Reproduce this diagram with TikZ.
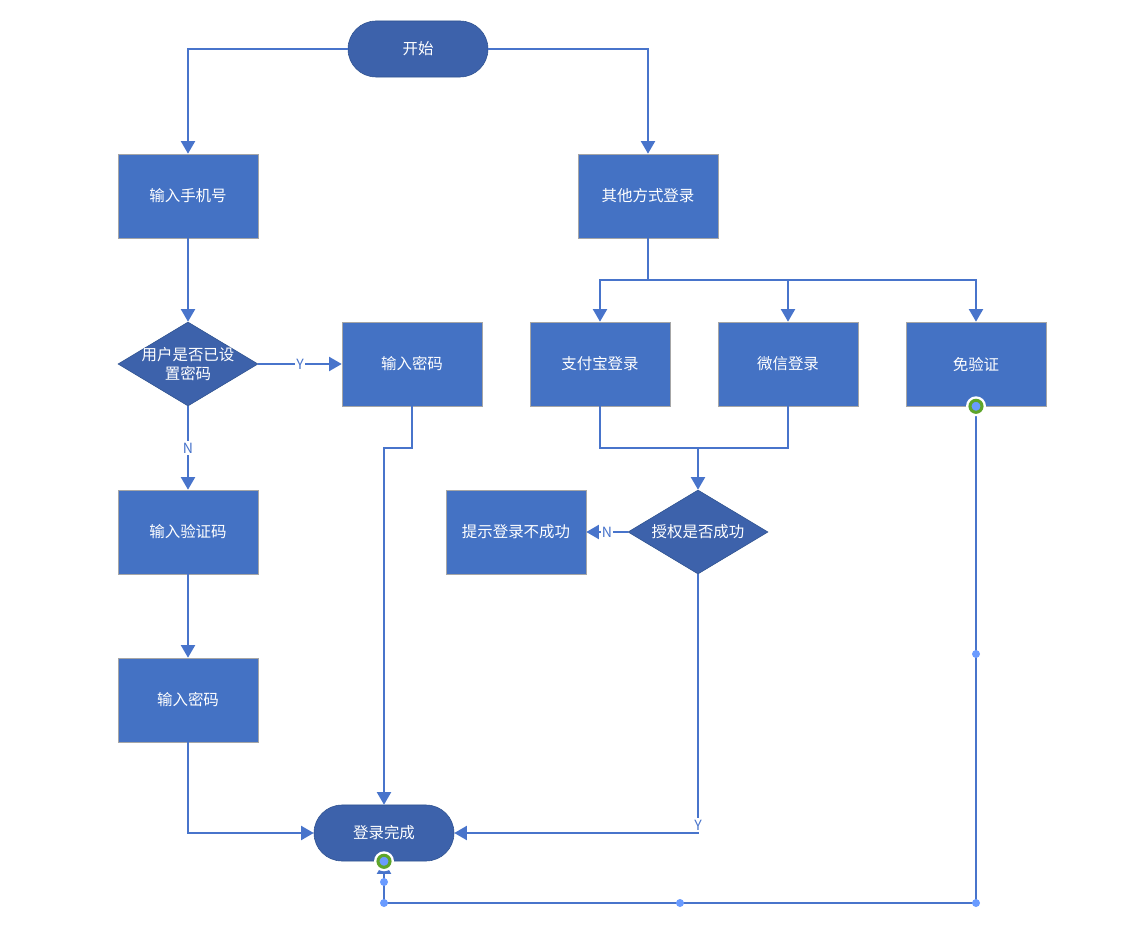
\documentclass[tikz,border=0pt]{standalone}
\usepackage{fontspec}
\setmainfont{Noto Sans CJK SC}
\usetikzlibrary{arrows.meta,shapes.geometric}

\definecolor{boxblue}{HTML}{4472C4}
\definecolor{darkblue}{HTML}{3D62AB}
\definecolor{edgeblue}{HTML}{2F528F}
\definecolor{lineblue}{HTML}{4874CB}
\definecolor{handleblue}{HTML}{6A9BFF}
\definecolor{ringgreen}{HTML}{5EA52A}

\tikzset{
  stepbox/.style={rectangle, draw=gray!70, fill=boxblue, text=white,
    minimum width=3.5cm, minimum height=2.1cm, font=\fontsize{11}{14}\selectfont},
  terminal/.style={rectangle, rounded corners=0.7cm, draw=edgeblue, fill=darkblue, text=white,
    minimum width=3.5cm, minimum height=1.4cm, font=\fontsize{11}{14}\selectfont},
  decision/.style={diamond, draw=edgeblue, fill=darkblue, inner sep=0pt,
    minimum width=3.5cm, minimum height=2.1cm},
  dectext/.style={text=white, align=center, font=\fontsize{11}{14}\selectfont},
  flow/.style={draw=lineblue, line width=1.5pt, -{Triangle[width=10pt,length=9pt]}},
  plain/.style={draw=lineblue, line width=1.5pt},
  yn/.style={fill=white, text=lineblue, inner sep=1pt, font=\fontsize{10}{11}\selectfont},
  handle/.style={fill=handleblue}
}

\begin{document}
\begin{tikzpicture}[x=0.025cm, y=-0.025cm]
  \useasboundingbox (0,0) rectangle (1144,931);

  % nodes
  \node[terminal] (start) at (418,49) {开始};
  \node[stepbox] (phone) at (188,196) {输入手机号};
  \node[stepbox] (other) at (648,196) {其他方式登录};
  \node[decision, label={[dectext]center:用户是否已设\\置密码}] (haspwd) at (188,364) {};
  \node[stepbox] (pwdright) at (412,364) {输入密码};
  \node[stepbox] (alipay) at (600,364) {支付宝登录};
  \node[stepbox] (wechat) at (788,364) {微信登录};
  \node[stepbox] (noverify) at (976,364) {免验证};
  \node[stepbox] (code) at (188,532) {输入验证码};
  \node[stepbox] (fail) at (516,532) {提示登录不成功};
  \node[decision, label={[dectext]center:授权是否成功}] (authok) at (698,532) {};
  \node[stepbox] (pwdleft) at (188,700) {输入密码};
  \node[terminal] (done) at (384,833) {登录完成};

  \coordinate (split) at (648,280);
  \coordinate (merge) at (698,448);
  \coordinate (bend) at (412,448);
  \coordinate (bottom) at (384,903);

  % connectors
  \draw[flow] (start.west) -| (phone.north);
  \draw[flow] (start.east) -| (other.north);
  \draw[flow] (phone) -- (haspwd);
  \draw[flow] (haspwd.east) -- node[yn] {Y} (pwdright.west);
  \draw[flow] (haspwd.south) -- node[yn] {N} (code.north);
  \draw[flow] (code) -- (pwdleft);
  \draw[flow] (pwdleft.south) |- (done.west);
  \draw[flow] (pwdright.south) -- (bend) -| (done.north);

  \draw[flow] (other.south) -- (split) -| (alipay.north);
  \draw[flow] (split) -| (wechat.north);
  \draw[flow] (split) -| (noverify.north);

  \draw[plain] (alipay.south) |- (merge);
  \draw[plain] (wechat.south) |- (merge);
  \draw[flow] (merge) -- (authok.north);
  \draw[flow] (authok.west) -- node[yn] {N} (fail.east);
  \draw[flow] (authok.south) |- node[yn, yshift=0.2cm] {Y} (done.east);

  \draw[flow] (noverify.south) |- (bottom) -- (done.south);

  % selection handles
  \foreach \p in {(976,654), (976,903), (680,903), (384,903), (384,882)}
    \fill[handle] \p circle (0.1cm);
  \foreach \p in {(noverify.south), (done.south)} {
    \fill[white] \p circle (0.25cm);
    \draw[ringgreen, line width=2.2pt, fill=handleblue] \p circle (0.15cm);
  }
\end{tikzpicture}
\end{document}
